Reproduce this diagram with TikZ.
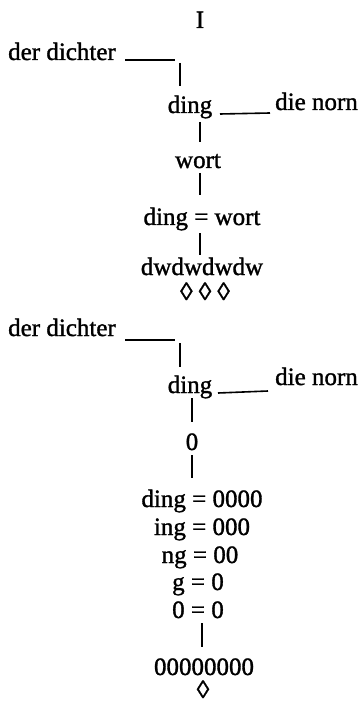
\documentclass[tikz,border=0pt]{standalone}
\usepackage{fontspec}
\setmainfont{Liberation Serif}[BoldFont={Liberation Serif},BoldFeatures={FakeBold=1.3}]
\begin{document}
\begin{tikzpicture}[x=1pt,y=-1pt,
  txt/.style={inner sep=0pt,anchor=base,font=\fontsize{25}{28}\selectfont\bfseries},
  txtw/.style={txt,anchor=base west},
  conn/.style={line width=1.6pt}]
\useasboundingbox (0,0) rectangle (362,703);
% first part
\node[txt] (roman) at (200,28) {I};
\node[txtw] (dd1) at (8,60) {der dichter};
\node[txt] (ding1) at (190,113) {ding};
\node[txtw] (norn1) at (275,110) {die norn};
\node[txt] (wort) at (198,168) {wort};
\node[txt] (eq1) at (202,225) {ding = wort};
\node[txt] (dw) at (202,275) {dwdwdwdw};
\node[txt] (loz3) at (205,300) {◊ ◊ ◊};
% second part
\node[txtw] (dd2) at (8,336) {der dichter};
\node[txt] (ding2) at (190,393) {ding};
\node[txtw] (norn2) at (275,385) {die norn};
\node[txt] (zero) at (192,450) {0};
\node[txt] (e1) at (202,507) {ding = 0000};
\node[txt] (e2) at (202,535) {ing = 000};
\node[txt] (e3) at (200,563) {ng = 00};
\node[txt] (e4) at (198,590) {g = 0};
\node[txt] (e5) at (198,618) {0 = 0};
\node[txt] (zeros) at (204,675) {00000000};
\node[txt] (loz1) at (203,698) {◊};
% connector end points
\coordinate (a1) at (125,60); \coordinate (a2) at (175,60);
\coordinate (b1) at (180,63); \coordinate (b2) at (180,86);
\coordinate (c1) at (220,114); \coordinate (c2) at (270,113);
\coordinate (d1) at (200,122); \coordinate (d2) at (200,142);
\coordinate (f1) at (200,173); \coordinate (f2) at (200,195);
\coordinate (g1) at (200,233); \coordinate (g2) at (200,255);
\coordinate (h1) at (125,340); \coordinate (h2) at (175,340);
\coordinate (i1) at (180,343); \coordinate (i2) at (180,367);
\coordinate (j1) at (218,393); \coordinate (j2) at (268,391);
\coordinate (k1) at (192,398); \coordinate (k2) at (192,422);
\coordinate (l1) at (192,455); \coordinate (l2) at (192,478);
\coordinate (m1) at (202,623); \coordinate (m2) at (202,647);
\draw[conn] (a1) -- (a2);
\draw[conn] (b1) -- (b2);
\draw[conn] (c1) -- (c2);
\draw[conn] (d1) -- (d2);
\draw[conn] (f1) -- (f2);
\draw[conn] (g1) -- (g2);
\draw[conn] (h1) -- (h2);
\draw[conn] (i1) -- (i2);
\draw[conn] (j1) -- (j2);
\draw[conn] (k1) -- (k2);
\draw[conn] (l1) -- (l2);
\draw[conn] (m1) -- (m2);
\end{tikzpicture}
\end{document}
